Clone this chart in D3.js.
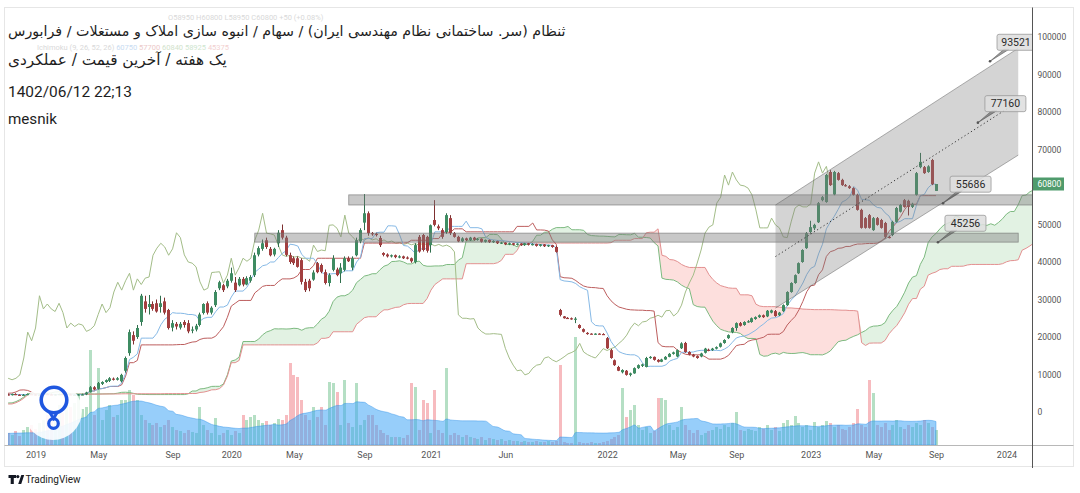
<!DOCTYPE html>
<html><head><meta charset="utf-8">
<script src="https://cdn.jsdelivr.net/npm/d3@7"></script>
<style>html,body{margin:0;padding:0;background:#fff;}svg{display:block;}</style>
</head><body>
<svg id="chart" width="1080" height="493"></svg>
<script>
// ---------------- DATA ----------------
// Off-screen weekly history before the first visible bar: [high, low]
const preHighLow = [
[1850,1720],[1820,1700],[1880,1740],[1950,1800],[1920,1780],[1850,1700],[1780,1650],[1820,1690],[1880,1760],[1950,1820],
[2000,1870],[2050,1920],[1990,1860],[1940,1820],[2000,1880],[2100,1960],[2150,2000],[2080,1950],[2040,1920],[2110,1980],
[2200,2060],[2250,2120],[2180,2060],[2130,2020],[2200,2080],[2300,2160],[2350,2220],[2280,2160],[2230,2120],[2310,2190],
[2400,2270],[2450,2330],[2380,2260],[2330,2220],[2400,2280],[2470,2350],[2530,2400],[2460,2330],[2400,2280],[2350,2230],
[2430,2300],[2500,2380],[2550,2420],[2480,2350],[2430,2310],[2500,2380],[2570,2440],[2530,2400],[2470,2350],[2550,2420],
[2600,2480],[2560,2430],[2650,2520],
[3300,2600],[4300,3200],[5700,4200],[7500,5600],[7200,6000],[6300,5100],[5300,4700],[5200,4700],[5100,4500],
[5000,4500],[4900,4400],[4950,4450],[5000,4500],[4900,4400],[4850,4350],[4900,4400],[5000,4500],[4950,4450],[4900,4400],
[4950,4450],[5000,4500],[4900,4400],[4950,4450],[4900,4400]
];
const preVolume = [8,10,9,12,15,20,18,14,12,10,11,9,10,12,11,10,9,11,10];

// Visible weekly candles: [open, high, low, close]
const candles = [
[4700,4900,4400,4500],[4500,4900,4400,4800],[4800,5000,4500,4600],[4600,4700,4300,4400],[4400,4800,4300,4600],
[4600,4900,4500,4800],[4800,5000,4600,4700],[4700,4800,4400,4500],[4500,4700,4300,4600],[4600,4900,4500,4800],
[4800,5000,4600,4700],[4700,4900,4500,4600],[4600,4800,4400,4700],[4700,4900,4500,4800],[4800,5000,4600,4600],
[4600,4800,4400,4700],[4700,4900,4500,4500],[4500,4700,4300,4600],[4600,4800,4400,4700],[4700,4900,4500,4700],
[4700,5400,4500,5200],[5300,6900,5200,6600],[6600,6900,5800,6000],[6200,8000,6000,7700],[7500,8200,7200,8000],
[8000,8700,7800,8500],[8300,9300,8000,9000],[8900,9200,8400,8600],[8600,9300,8400,9000],[8200,10200,7900,9900],
[11000,14800,10500,14400],[15700,22000,15000,21300],[20500,21500,18000,19000],[20000,23200,19500,22400],[24000,31500,23000,31000],
[29500,31000,26500,27500],[28000,31200,26000,28800],[28800,29500,27000,27500],[29000,30000,26500,26800],[28000,31000,26500,29000],
[29500,30500,26000,26500],[27200,27500,22000,22400],[22500,24500,21500,23700],[23500,24000,22000,22800],[22500,24000,22000,23500],
[24000,24500,22500,23200],[23700,24500,21000,21500],[21800,22800,21000,22000],[22000,23500,21500,23000],[23200,26500,22800,26000],
[26400,29000,26000,28800],[29000,29500,26000,26500],[26500,28200,26000,27800],[28500,32500,28000,32000],[33000,35000,32500,34600],
[33800,34200,32000,32500],[33500,35500,33000,35000],[35000,38500,34500,37000],[34500,36000,32000,32500],[33800,36000,33500,35500],
[35500,36000,33500,34000],[34000,36200,33800,35700],[35000,36500,34500,36000],[36500,42500,36000,41800],[42000,44200,41500,43700],
[43500,46000,43000,45000],[45800,46500,43500,44000],[43500,44000,41500,41800],[42000,43800,41500,43500],[45000,48500,44000,47800],
[48500,50000,46000,46500],[46500,47000,41500,41900],[41800,42500,39500,40000],[41000,41500,39200,39700],[41000,41500,38500,38700],
[40500,41000,34000,34700],[34700,35500,32000,32500],[35000,35500,32200,33000],[35300,37800,35000,37200],[39700,40000,37000,37300],
[39200,39600,37000,37400],[37300,38000,34000,34400],[34400,37000,33500,36500],[37900,41800,37500,41000],[38000,38500,36200,36500],
[37000,39700,34400,38500],[37900,41500,37500,41000],[41000,41500,40000,40200],[38500,41500,37800,41000],[41800,46500,41500,45800],
[45500,49000,45000,48500],[50500,58100,48500,53000],[53000,53500,47000,47700],[47700,48000,47000,47500],[47500,47800,46800,47200],
[46400,47000,44000,44500],[42400,42600,41500,41900],[42000,42300,41200,41500],[41500,42000,41200,41800],[41800,42000,41000,41300],
[41300,41800,41000,41500],[41500,41700,40800,41000],[41200,41500,40700,41000],[41000,41200,39800,40200],[40000,45000,39600,44500],
[46700,47200,42500,42800],[47200,47500,42800,43200],[46700,47000,42500,43000],[44500,50000,42500,49800],[51200,56500,49500,49900],
[49500,50000,48500,49000],[48500,49000,46200,46700],[48000,53000,47500,52500],[51700,52500,47200,47700],[47700,48000,46500,46700],
[46700,47000,45300,45500],[45500,46600,45300,46300],[46300,46500,45600,45800],[45800,46700,45600,46500],[46500,46700,45700,45900],
[45900,46400,45700,46200],[46200,46300,45200,45400],[45400,46000,45200,45900],[45900,46000,45100,45300],[45300,45800,45100,45600],
[45600,45700,44800,45000],[45000,45400,44800,45200],[45200,45300,44500,44700],[44700,45200,44500,45000],[45000,45100,44400,44600],
[44600,45000,44400,44900],[44900,45000,44300,44500],[44500,45100,44300,45000],[45000,45100,44400,44600],[44600,45000,44400,44800],
[44800,44900,44100,44300],[44300,44800,44100,44700],[44700,44800,44000,44200],[44200,44600,44000,44500],[44500,44600,43800,44000],
[44000,44300,42500,42700],[27200,27500,25500,25900],[25500,25600,24900,25000],[25100,25300,24800,25000],[25000,25200,24600,24800],
[24800,25300,23700,24900],[23200,23400,22200,22400],[22100,22300,21200,21400],[21100,21300,20600,20800],[20900,21000,20700,20800],
[20800,21000,20600,20900],[20900,21000,20700,20800],[20800,21000,20600,20700],[19700,20000,16800,17000],[16500,16800,14200,14400],
[13800,14000,12300,12500],[12000,12300,10900,11000],[10600,11400,10300,11200],[11000,11200,9700,9900],[9900,10500,9500,10300],
[10300,11900,10200,11700],[11700,12700,11500,12500],[12300,12900,12000,12700],[12000,14700,11900,14400],[14400,14900,14200,14700],
[14700,14800,13700,13900],[13900,14100,13200,13400],[13400,14200,13300,14000],[14000,14900,13900,14700],[14700,15700,14600,15500],
[15500,16100,15300,15900],[14800,16700,14600,16500],[17000,18600,16800,18300],[18400,18700,15800,16000],[16000,16200,15100,15300],
[15300,15500,14600,14800],[14900,15100,14200,14400],[14800,15800,14600,15600],[15800,17100,15600,16900],[16600,16900,16200,16400],
[16500,17100,16300,16900],[16900,17500,16700,17300],[17400,18500,17200,18300],[18400,19400,18200,19200],[19700,20700,19500,20500],
[21300,22600,21000,22400],[22400,23900,21650,23700],[23700,24000,22800,23000],[23200,24200,23000,24000],[24000,24500,23800,24200],
[24000,25200,23800,25000],[24800,25500,24600,25300],[25300,26000,25100,25800],[25800,26000,25100,25300],[25500,27200,25300,27000],
[26500,27300,26300,27100],[26900,27200,25400,25600],[25800,26700,25600,26500],[26900,28700,26700,28500],[28500,32200,28300,32000],
[32000,34600,31800,34400],[34400,36700,34200,36500],[37000,39900,36800,39700],[40000,43400,39800,43200],[43700,48000,43500,47700],
[48000,51000,47500,49300],[49000,50200,48500,49900],[50600,56000,50400,55700],[56500,57600,56200,57300],[56000,63500,55800,63200],
[64000,64500,60300,60500],[58000,64300,57800,64000],[63700,64000,61700,61900],[61900,62200,60300,60500],[60500,60800,60100,60300],
[60200,60500,59500,59700],[59700,59900,57700,57900],[57900,58200,53700,53900],[53900,54200,48900,49100],[51700,52000,48900,49100],
[52500,52800,48900,49100],[48500,52000,48300,51700],[51700,52000,49700,49900],[51200,51500,48900,49100],[50400,50700,46300,46700],
[46700,47000,46300,46500],[47200,51000,46900,50700],[50700,54700,50500,54400],[53400,55500,53200,55200],[56500,56800,54500,54700],
[56300,56600,52400,54700],[54700,55800,54400,55500],[57900,64000,57700,63700],[65300,69100,65000,66700],[65300,65600,63500,63700],
[64000,65800,63800,65500],[67200,67500,60500,60750],[58950,60800,58950,60800]
];
const volume = [
12,10,14,9,15,18,20,16,22,25, 30,28,35,40,32,45,38,42,50,36,
38,95,30,77,25,35,40,28,30,45, 45,55,50,45,30,25,22,20,22,18,
20,25,18,15,14,12,15,13,12,38, 20,15,12,27,10,12,15,10,14,12,
30,25,28,30,25,22,24,20,22,26, 25,30,82,70,68,45,30,25,38,28,
38,20,63,62,53,20,65,22,18,62, 20,25,30,30,20,15,12,10,8,8,
8,7,10,62,58,15,45,42,12,55, 15,12,77,10,12,10,8,10,8,7,
6,8,5,7,6,5,6,4,5,4, 4,3,4,3,3,4,3,3,4,3,
4,80,3,2,2,108,3,2,2,3, 2,2,3,4,6,8,10,57,28,35,
40,20,15,18,12,14,47,47,45,20, 15,18,38,20,15,12,15,10,12,14,
15,18,16,20,18,22,33,15,14,16, 15,14,18,16,20,15,18,14,22,25,
20,29,22,18,20,15,23,18,20,24, 22,18,20,16,15,18,22,36,20,18,
65,52,20,18,22,15,20,25,18,16, 20,18,22,20,25,22,18,15
];
const priceTicks = [0,10000,20000,30000,40000,50000,70000,80000,90000,100000];
const timeTickLabels = ["2019","May","Sep","2020","May","Sep","2021","Jun","2022","May","Sep","2023","May","Sep","2024"];
const timeTickBars   = [7,23,42,57,73,91,108,127,153,171,186,205,221,237,255];
const lastPrice = 60800;
const ichimokuLengths = [9, 26, 52, 26];
const volumeMaLength = 20;
// drawings (bar index, price)
const zoneFromBar = [87, 63];
const zoneToBar   = [270, 258];
const zoneLow     = [55200, 45300];
const zoneHigh    = [57900, 47700];
const channelBars  = [196, 258];
const channelUpper = [55200, 97000];
const channelLower = [27700, 68500];
const calloutText  = ["93521","77160","55686","45256"];
const calloutBar   = [250.8, 247.7, 238.8, 237.5];
const calloutValue = [93521, 77160, 55686, 45256];
const titleLines = [
 "ثنظام (سر. ساختمانی نظام مهندسی ایران) / سهام / انبوه سازی املاک و مستغلات / فرابورس",
 "یک هفته / آخرین قیمت / عملکردی",
 "1402/06/12 22;13",
 "mesnik"
];
const legendOHLC = "O58950  H60800  L58950  C60800  +50 (+0.08%)";
const legendIchimokuName = "Ichimoku (9, 26, 52, 26)";
const legendIchimokuValues = ["60750","57700","60840","58925","45375"];

// ---------------- SETUP ----------------
const svg = d3.select('#chart');
svg.append('rect').attr('width',1080).attr('height',493).attr('fill','#fff');

const N = candles.length, P = preHighLow.length;
const x = d3.scaleLinear().domain([0, N-1]).range([8.14, 936]);
const y = d3.scaleLinear().domain([0, 100000]).range([412, 37]);
const yv = d3.scaleLinear().domain([0, 120]).range([445, 325]);

const PL=8, PR=1032, PT=8, PB=445;
svg.append('defs').append('clipPath').attr('id','plot')
  .append('rect').attr('x',PL).attr('y',PT).attr('width',PR-PL).attr('height',PB-PT);
const plot = svg.append('g').attr('clip-path','url(#plot)');

// ---------------- INDICATORS ----------------
const highs = preHighLow.map(d=>d[0]).concat(candles.map(d=>d[1]));
const lows  = preHighLow.map(d=>d[1]).concat(candles.map(d=>d[2]));
function midRange(f, len){
  if (f-len+1 < 0) return NaN;
  let hh=-Infinity, ll=Infinity;
  for (let j=f-len+1;j<=f;j++){ if(highs[j]>hh)hh=highs[j]; if(lows[j]<ll)ll=lows[j]; }
  return (hh+ll)/2;
}
const [cLen,bLen,sLen,disp] = ichimokuLengths;
const convLine = d3.range(N).map(k=>({k, v: midRange(k+P,cLen)}));
const baseLine = d3.range(N).map(k=>({k, v: midRange(k+P,bLen)}));
const cloud = d3.range(N+disp).map(k=>{
  const f = k+P-disp;
  return {k, a:(midRange(f,cLen)+midRange(f,bLen))/2, b: midRange(f,sLen)};
}).filter(d=>!isNaN(d.a)&&!isNaN(d.b));
const lagging = d3.range(N-disp).map(k=>({k, v: candles[k+disp][3]}));
const volAll = preVolume.concat(volume);
const volMa = d3.range(N).map(k=>({k, v: d3.mean(volAll.slice(k+preVolume.length-volumeMaLength+1, k+preVolume.length+1))}));

// ---------------- VOLUME ----------------
const up = d=>d[3]>=d[0];
plot.append('g').selectAll('rect').data(candles).join('rect')
  .attr('x',(d,i)=>Math.round(x(i)-1.5)).attr('width',3)
  .attr('y',(d,i)=>yv(volume[i])).attr('height',(d,i)=>PB-yv(volume[i]))
  .attr('fill',d=>up(d)?'rgba(60,170,100,0.38)':'rgba(235,85,95,0.40)');
plot.append('path').datum(volMa)
  .attr('d', d3.area().x(d=>x(d.k)).y0(PB).y1(d=>yv(d.v)).curve(d3.curveMonotoneX))
  .attr('fill','rgba(66,165,245,0.55)').attr('stroke','rgba(40,140,230,0.5)').attr('stroke-width',0.8);

// ---------------- ICHIMOKU ----------------
plot.append('path').datum(cloud)
  .attr('d', d3.area().x(d=>x(d.k)).y0(d=>y(d.b)).y1(d=>y(Math.max(d.a,d.b))))
  .attr('fill','rgba(76,175,80,0.16)');
plot.append('path').datum(cloud)
  .attr('d', d3.area().x(d=>x(d.k)).y0(d=>y(d.a)).y1(d=>y(Math.max(d.a,d.b))))
  .attr('fill','rgba(244,67,54,0.17)');
const ln = d3.line().x(d=>x(d.k)).y(d=>y(d.v)).defined(d=>!isNaN(d.v));
plot.append('path').datum(cloud.map(d=>({k:d.k,v:d.a}))).attr('d',ln).attr('fill','none').attr('stroke','#7dba80').attr('stroke-width',1);
plot.append('path').datum(cloud.map(d=>({k:d.k,v:d.b}))).attr('d',ln).attr('fill','none').attr('stroke','#e39090').attr('stroke-width',1);
plot.append('path').datum(lagging).attr('d',ln).attr('fill','none').attr('stroke','#a3bd88').attr('stroke-width',1);
plot.append('path').datum(baseLine).attr('d',ln).attr('fill','none').attr('stroke','#bd5e5e').attr('stroke-width',1);
plot.append('path').datum(convLine).attr('d',ln).attr('fill','none').attr('stroke','#86b9e6').attr('stroke-width',1);

// ---------------- CANDLES ----------------
const upC='#3e8c62', dnC='#a33f40';
const gc = plot.append('g');
gc.selectAll('line').data(candles).join('line')
  .attr('x1',(d,i)=>Math.round(x(i)-1.5)+1.5).attr('x2',(d,i)=>Math.round(x(i)-1.5)+1.5)
  .attr('y1',d=>y(d[1])).attr('y2',d=>y(d[2]))
  .attr('stroke',d=>up(d)?'#2f6e4c':'#7e3030').attr('stroke-width',1);
gc.selectAll('rect').data(candles).join('rect')
  .attr('x',(d,i)=>Math.round(x(i)-1.5)).attr('width',3)
  .attr('y',d=>y(Math.max(d[0],d[3]))).attr('height',d=>Math.max(1.2,Math.abs(y(d[0])-y(d[3]))))
  .attr('fill',d=>up(d)?upC:dnC);

// ---------------- DRAWINGS ----------------
const gd = plot.append('g');
zoneLow.forEach((lo,i)=>{
  gd.append('rect').attr('x',x(zoneFromBar[i])).attr('width',x(zoneToBar[i])-x(zoneFromBar[i]))
    .attr('y',y(zoneHigh[i])).attr('height',y(lo)-y(zoneHigh[i]))
    .attr('fill','rgba(125,125,125,0.42)').attr('stroke','rgba(110,110,110,0.7)').attr('stroke-width',0.8);
});
const cx0=x(channelBars[0]), cx1=x(channelBars[1]);
gd.append('path')
  .attr('d',`M${cx0},${y(channelUpper[0])}L${cx1},${y(channelUpper[1])}L${cx1},${y(channelLower[1])}L${cx0},${y(channelLower[0])}Z`)
  .attr('fill','rgba(128,128,128,0.34)').attr('stroke','none');
gd.append('line').attr('x1',cx0).attr('y1',y(channelUpper[0])).attr('x2',cx1).attr('y2',y(channelUpper[1])).attr('stroke','rgba(100,100,100,0.5)');
gd.append('line').attr('x1',cx0).attr('y1',y(channelLower[0])).attr('x2',cx1).attr('y2',y(channelLower[1])).attr('stroke','rgba(100,100,100,0.5)');
gd.append('line').attr('x1',cx0).attr('y1',y((channelUpper[0]+channelLower[0])/2))
  .attr('x2',cx1).attr('y2',y((channelUpper[1]+channelLower[1])/2))
  .attr('stroke','#333').attr('stroke-width',1).attr('stroke-dasharray','1.2,2.6');
calloutText.forEach((t,i)=>{
  const ax=x(calloutBar[i]), ay=y(calloutValue[i]);
  const bx=ax+7, by=ay-27, bw=41, bh=16;
  gd.append('path').attr('d',`M${ax},${ay}L${bx+7},${by+bh-1}L${bx+12},${by+bh-1}Z`)
    .attr('fill','rgba(90,90,90,0.6)').attr('stroke','rgba(80,80,80,0.7)').attr('stroke-width',0.8);
  gd.append('circle').attr('cx',ax).attr('cy',ay).attr('r',1.3).attr('fill','#555');
  gd.append('rect').attr('x',bx).attr('y',by).attr('width',bw).attr('height',bh).attr('rx',2)
    .attr('fill','rgba(222,222,222,0.88)').attr('stroke','#9a9a9a').attr('stroke-width',0.8);
  gd.append('text').attr('x',Math.min(bx+bw/2, 1016)).attr('y',by+bh/2+3.6).attr('text-anchor','middle')
    .attr('font-family','Roboto, sans-serif').attr('font-size',10.5).attr('fill','#2a2a2a').text(t);
});

// ---------------- AXES ----------------
svg.append('rect').attr('x',4.5).attr('y',7.5).attr('width',1069).attr('height',459)
  .attr('fill','none').attr('stroke','#e6e6e6');
svg.append('line').attr('x1',4.5).attr('x2',1073.5).attr('y1',445.5).attr('y2',445.5).attr('stroke','#b8b8b8').attr('stroke-width',1.2);
svg.append('line').attr('x1',1032.5).attr('x2',1032.5).attr('y1',7.5).attr('y2',468).attr('stroke','#555').attr('stroke-width',1);

const ya = svg.append('g').attr('transform','translate(1032.5,0)')
  .call(d3.axisRight(y).tickValues(priceTicks).tickSize(0).tickPadding(5).tickFormat(d3.format('d')));
ya.select('.domain').remove();
ya.selectAll('text').attr('font-family','Roboto, sans-serif').attr('font-size',8.5).attr('fill','#555');

const xa = svg.append('g').attr('transform','translate(0,445.5)')
  .call(d3.axisBottom(x).tickValues(timeTickBars).tickSize(0).tickPadding(6).tickFormat((d,i)=>timeTickLabels[i]));
xa.select('.domain').remove();
xa.selectAll('text').attr('font-family','Roboto, sans-serif').attr('font-size',9).attr('fill','#555');

// last price label
svg.append('rect').attr('x',1033).attr('y',y(lastPrice)-6.5).attr('width',31).attr('height',13).attr('fill','#4f9b6c');
svg.append('text').attr('x',1037.5).attr('y',y(lastPrice)+3).attr('font-family','Roboto, sans-serif')
  .attr('font-size',8.5).attr('fill','#fff').text(d3.format('d')(lastPrice));

// ---------------- LOGO ----------------
svg.append('circle').attr('cx',53).attr('cy',411).attr('r',29).attr('fill','rgba(255,255,255,0.9)');
svg.append('circle').attr('cx',54).attr('cy',400).attr('r',12.8).attr('fill','none').attr('stroke','#1f57e0').attr('stroke-width',3.6);
svg.append('circle').attr('cx',53.5).attr('cy',423.5).attr('r',4.8).attr('fill','none').attr('stroke','#1f57e0').attr('stroke-width',3.2);
svg.append('path').attr('d','M49.5,412 L53.5,418.5 L57.5,412').attr('fill','none').attr('stroke','#1f57e0').attr('stroke-width',3);

// ---------------- TEXTS ----------------
svg.append('text').attr('x',168).attr('y',20).attr('font-family','Roboto, sans-serif').attr('font-size',7.5).attr('fill','#d9d9d9').text(legendOHLC);
const lg = svg.append('text').attr('x',37).attr('y',50).attr('font-family','Roboto, sans-serif').attr('font-size',7.5).attr('fill','#d9d9d9');
lg.append('tspan').text(legendIchimokuName+' ');
const lgCol=['#c9dcf2','#ecc9c9','#d2e3cc','#cfe6cf','#f2d0d0'];
legendIchimokuValues.forEach((v,i)=>lg.append('tspan').attr('fill',lgCol[i]).text(' '+v));

function fitText(t, x0, yb, width, family, size){
  const el = svg.append('text').attr('x',x0).attr('y',yb).attr('font-family',family).attr('font-size',size).attr('fill','#1e1e1e').text(t);
  if (width){ const w = el.node().getComputedTextLength(); if (w>0) el.attr('font-size', size*width/w); }
  return el;
}
fitText(titleLines[0], 8, 36, 558, 'DejaVu Sans, sans-serif', 15);
fitText(titleLines[1], 8, 65, 219, 'DejaVu Sans, sans-serif', 15);
fitText(titleLines[2], 8, 97, 124, 'Roboto, sans-serif', 15.5);
fitText(titleLines[3], 8, 124, 49, 'Roboto, sans-serif', 15.5);

// TradingView footer
const tv = svg.append('g').attr('fill','#131722');
tv.append('path').attr('d','M8.5,475 H16 V478 H13.8 V484 H10.7 V478 H8.5 Z');
tv.append('circle').attr('cx',17.8).attr('cy',476.6).attr('r',1.6);
tv.append('path').attr('d','M18.2,484 L21.3,475 H24.2 L21.2,484 Z');
svg.append('text').attr('x',25.5).attr('y',483).attr('font-family','Roboto, sans-serif').attr('font-size',10).attr('fill','#222').text('TradingView');
</script>
</body></html>
